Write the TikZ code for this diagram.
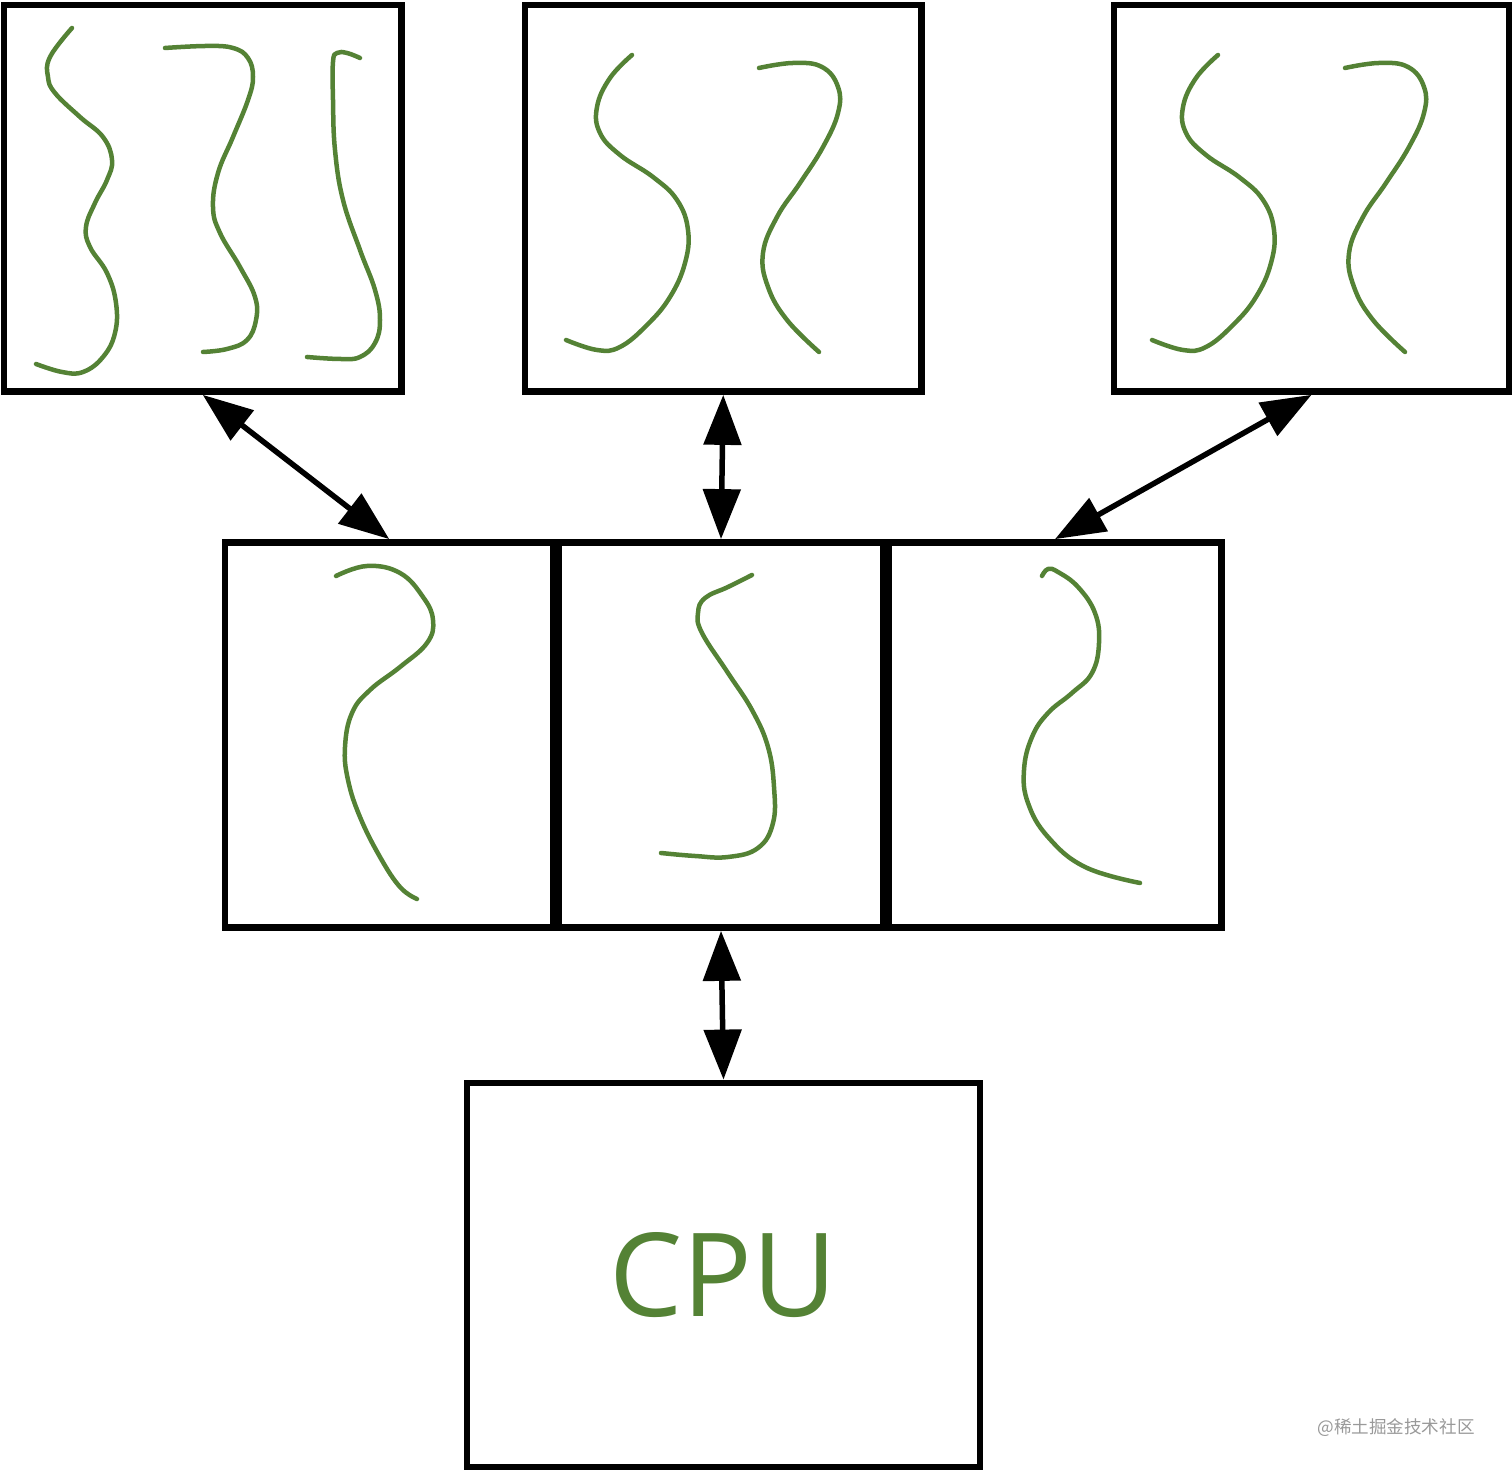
\documentclass[tikz,border=0pt]{standalone}
\usepackage{fontspec}
\usetikzlibrary{arrows.meta}
\newfontfamily\cpufont{Open Sans}
\newfontfamily\cjkfont{Noto Sans CJK SC}
\definecolor{wirecolor}{RGB}{84,130,53}

\begin{document}
\begin{tikzpicture}[
    x=0.01cm, y=-0.01cm,
    box/.style={draw, line width=0.065cm, inner sep=0pt},
    wire/.style={draw=wirecolor, line width=0.045cm, line cap=round, line join=round},
    link/.style={{Triangle[length=0.5cm, width=0.37cm]}-{Triangle[length=0.5cm, width=0.37cm]}, line width=0.055cm}
]
    \useasboundingbox (0,0) rectangle (1512,1474);

    % Upper boxes
    \node[box, minimum width=3.975cm, minimum height=3.865cm] (topA) at (202.75,198.25) {};
    \node[box, minimum width=3.965cm, minimum height=3.865cm] (topB) at (723.25,198.25) {};
    \node[box, minimum width=3.95cm, minimum height=3.865cm] (topC) at (1311.5,198.25) {};

    % Middle row
    \node[box, minimum width=3.285cm, minimum height=3.85cm] (midA) at (389.25,735) {};
    \node[box, minimum width=3.25cm, minimum height=3.85cm] (midB) at (721,735) {};
    \node[box, minimum width=3.33cm, minimum height=3.85cm] (midC) at (1055,735) {};

    % CPU
    \node[box, minimum width=5.13cm, minimum height=3.84cm, text=wirecolor,
          font=\cpufont\fontsize{33}{40}\selectfont] (cpu) at (723.5,1275) {CPU};

    % Threads in the upper boxes
    \draw[wire] plot[smooth, tension=0.7] coordinates {(72,28) (50,57) (48,77) (55,93) (80,117) (103,137) (112,160) (107,180) (95,203) (86,227) (90,247) (107,273) (116,303) (115,333) (103,357) (83,372) (62,372) (36,364)};
    \draw[wire] plot[smooth, tension=0.7] coordinates {(165,48) (207,46) (233,48) (248,58) (253,77) (248,100) (233,137) (218,173) (213,207) (220,233) (240,267) (255,297) (256,320) (247,340) (227,349) (203,352)};
    \draw[wire] plot[smooth, tension=0.7] coordinates {(360,58) (347,53) (337,53) (333,62) (333,100) (335,150) (343,200) (360,250) (375,290) (380,320) (375,343) (360,357) (340,359) (307,357)};
    \foreach \dx in {0,586} {
        \begin{scope}[xshift=\dx*0.01cm]
            \draw[wire] plot[smooth, tension=0.7] coordinates {(632,55) (610,78) (597,107) (600,133) (620,155) (653,177) (677,200) (688,230) (685,263) (670,297) (647,325) (620,347) (597,350) (566,340)};
            \draw[wire] plot[smooth, tension=0.7] coordinates {(759,68) (793,63) (822,67) (838,87) (838,113) (823,147) (800,183) (777,217) (763,253) (768,287) (787,320) (819,352)};
        \end{scope}
    }

    % Threads in the middle row
    \draw[wire] plot[smooth, tension=0.7] coordinates {(336,576) (367,566) (400,573) (423,597) (433,620) (427,643) (400,667) (370,690) (352,713) (345,747) (348,780) (360,817) (380,857) (400,887) (417,899)};
    \draw[wire] plot[smooth, tension=0.7] coordinates {(752,575) (728,587) (705,598) (698,613) (702,633) (728,673) (752,710) (768,747) (774,787) (773,823) (758,848) (728,857) (695,856) (661,853)};
    \draw[wire] plot[smooth, tension=0.7] coordinates {(1042,576) (1048,569) (1058,572) (1078,587) (1095,613) (1099,643) (1092,673) (1072,693) (1048,713) (1032,737) (1024,770) (1028,803) (1048,837) (1085,867) (1140,883)};

    % Links
    \draw[link] (topA.south) -- (midA.north);
    \draw[link] (topB.south) -- (midB.north);
    \draw[link] (topC.south) -- (midC.north);
    \draw[link] (midB.south) -- (cpu.north);

    \node[text=black!40, font=\cjkfont\fontsize{5}{6}\selectfont] (mark) at (1396,1428) {@稀土掘金技术社区};
\end{tikzpicture}
\end{document}
